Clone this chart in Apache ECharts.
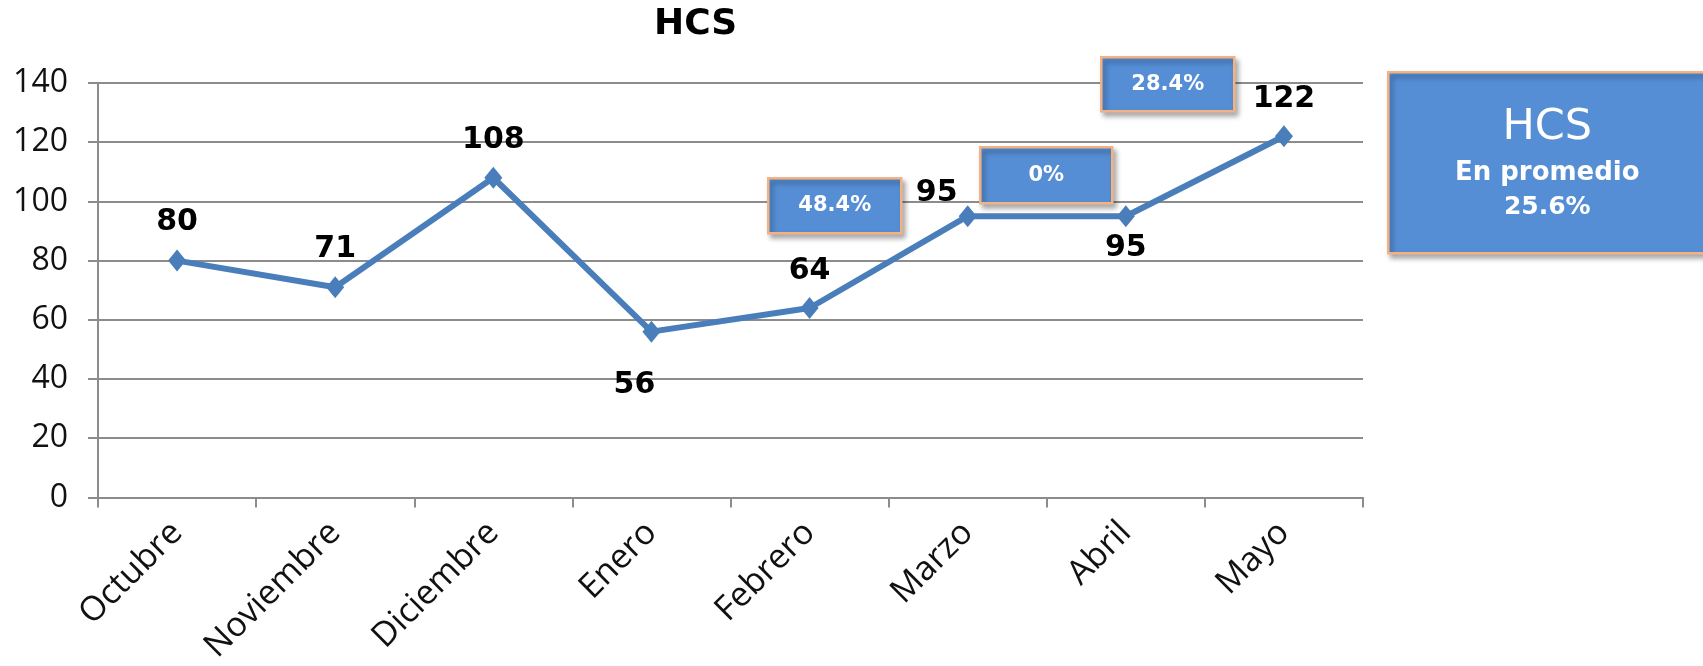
<!DOCTYPE html>
<html>
<head>
<meta charset="utf-8">
<title>HCS</title>
<script src="https://cdn.jsdelivr.net/npm/echarts@6/dist/echarts.min.js"></script>
<style>
    html, body { margin: 0; padding: 0; background: #ffffff; }
    #hcsChart { width: 1703px; height: 666px; }
</style>
</head>
<body>
<div id="hcsChart"></div>
<script>
// datos de la grafica
var meses = ['Octubre', 'Noviembre', 'Diciembre', 'Enero', 'Febrero', 'Marzo', 'Abril', 'Mayo'];
var valoresHCS = [80, 71, 108, 56, 64, 95, 95, 122];
var ticksY = [0, 20, 40, 60, 80, 100, 120, 140];
var crecimientos = ['48.4%', '0%', '28.4%'];
var promedio = ['HCS', 'En promedio', '25.6%'];

// desplazamiento de cada etiqueta respecto a su punto (px)
var desplazaEtiqueta = [[0, -38], [0, -38], [0, -38], [-17, 54], [0, -37], [-31, -23], [0, 32], [0, -37]];

var azulLinea = '#4a7ebb';
var azulCaja = '#558ed5';
var bordeCaja = '#f4b183';
var gris = '#8c8c8c';

function cajaTexto(x, y, w, h, texto) {
    return {
        type: 'group',
        left: x,
        top: y,
        z: 100,
        children: [
            {
                type: 'rect',
                z: 100,
                shape: { x: 0, y: 0, width: w, height: h },
                style: {
                    fill: azulCaja, stroke: bordeCaja, lineWidth: 2.5,
                    shadowBlur: 5, shadowOffsetX: 3, shadowOffsetY: 4, shadowColor: 'rgba(0,0,0,0.35)'
                }
            },
            {
                type: 'text',
                z: 101,
                x: w / 2, y: h / 2,
                style: {
                    text: texto, fill: '#ffffff', font: 'bold 21px "DejaVu Sans"',
                    align: 'center', verticalAlign: 'middle'
                }
            }
        ]
    };
}

function loadHCSChart() {
    var hcsChart = echarts.init(document.getElementById('hcsChart'));

    var datos = valoresHCS.map(function (v, i) {
        return {
            value: v,
            label: { position: [9 + desplazaEtiqueta[i][0], 11 + desplazaEtiqueta[i][1]] }
        };
    });

    var option = {
        animation: false,
        backgroundColor: '#ffffff',
        title: {
            text: 'HCS',
            left: 649,
            top: 2,
            textStyle: { fontFamily: 'DejaVu Sans', fontWeight: 'bold', fontSize: 36, color: '#000' }
        },
        grid: { left: 98, right: 340, top: 83, bottom: 167 },
        xAxis: {
            type: 'category',
            data: meses,
            boundaryGap: true,
            axisLine: { lineStyle: { color: gris, width: 2 } },
            axisTick: { show: true, length: 10, lineStyle: { color: gris, width: 2 } },
            axisLabel: {
                interval: 0, rotate: 45, margin: 30,
                fontFamily: 'Open Sans', fontSize: 34, color: '#111'
            }
        },
        yAxis: {
            type: 'value',
            min: ticksY[0],
            max: ticksY[ticksY.length - 1],
            interval: 20,
            axisLine: { show: true, lineStyle: { color: gris, width: 2 } },
            axisTick: { show: true, length: 10, lineStyle: { color: gris, width: 2 } },
            splitLine: { lineStyle: { color: gris, width: 2 } },
            axisLabel: { margin: 30, fontFamily: 'Open Sans', fontSize: 32, color: '#111' }
        },
        series: [
            {
                name: 'HCS',
                type: 'line',
                data: datos,
                symbol: 'diamond',
                symbolSize: [18, 22],
                itemStyle: { color: azulLinea },
                lineStyle: { color: azulLinea, width: 6 },
                label: {
                    show: true,
                    align: 'center',
                    verticalAlign: 'middle',
                    fontFamily: 'DejaVu Sans',
                    fontWeight: 'bold',
                    fontSize: 30,
                    color: '#000'
                }
            }
        ],
        graphic: [
            cajaTexto(767, 177, 133, 55, crecimientos[0]),
            cajaTexto(979, 146, 132, 56, crecimientos[1]),
            cajaTexto(1100, 56, 133, 54, crecimientos[2]),
            {
                type: 'group',
                left: 1387,
                top: 71,
                z: 100,
                children: [
                    {
                        type: 'rect',
                        shape: { x: 0, y: 0, width: 330, height: 181 },
                        style: {
                            fill: azulCaja, stroke: bordeCaja, lineWidth: 2.5,
                            shadowBlur: 5, shadowOffsetX: 3, shadowOffsetY: 4, shadowColor: 'rgba(0,0,0,0.35)'
                        }
                    },
                    {
                        type: 'text', x: 159, y: 56,
                        style: { text: promedio[0], fill: '#fff', font: '43px "DejaVu Sans"', align: 'center', verticalAlign: 'middle' }
                    },
                    {
                        type: 'text', x: 159, y: 101,
                        style: { text: promedio[1], fill: '#fff', font: 'bold 26px "DejaVu Sans"', align: 'center', verticalAlign: 'middle' }
                    },
                    {
                        type: 'text', x: 159, y: 135,
                        style: { text: promedio[2], fill: '#fff', font: 'bold 25px "DejaVu Sans"', align: 'center', verticalAlign: 'middle' }
                    }
                ]
            }
        ]
    };

    hcsChart.setOption(option);
}

loadHCSChart();
</script>
</body>
</html>
